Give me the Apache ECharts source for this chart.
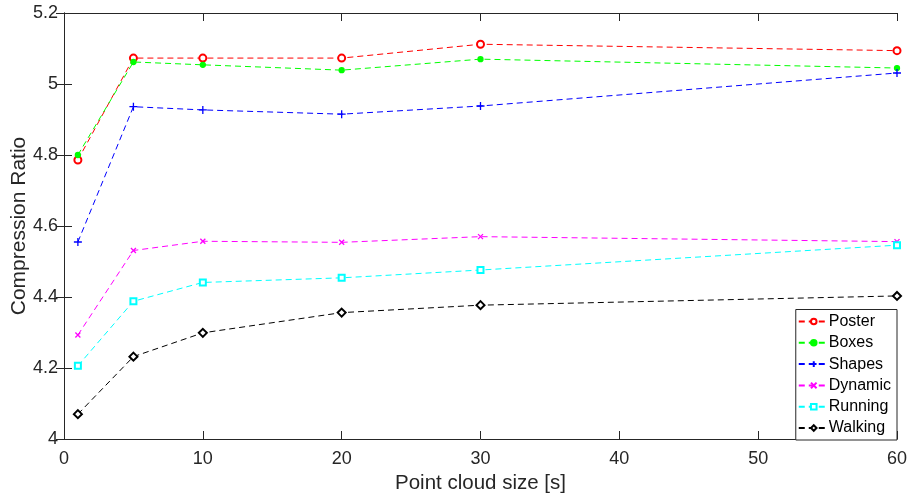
<!DOCTYPE html>
<html><head><meta charset="utf-8">
<script src="https://cdn.jsdelivr.net/npm/echarts@6/dist/echarts.min.js"></script>
<style>html,body{margin:0;padding:0;background:#fff}#c{width:907px;height:497px}</style>
</head><body><div id="c"></div>
<script>
const xValues = [1, 5, 10, 20, 30, 60];
const poster  = [4.786, 5.073, 5.073, 5.073, 5.112, 5.094];
const boxes   = [4.800, 5.062, 5.054, 5.039, 5.070, 5.045];
const shapes  = [4.555, 4.936, 4.927, 4.915, 4.938, 5.031];
const dynamic = [4.293, 4.531, 4.557, 4.554, 4.570, 4.556];
const running = [4.206, 4.388, 4.441, 4.454, 4.476, 4.546];
const walking = [4.070, 4.232, 4.299, 4.356, 4.377, 4.403];
const seriesNames = ['Poster', 'Boxes', 'Shapes', 'Dynamic', 'Running', 'Walking'];
const xTicks = [0, 10, 20, 30, 40, 50, 60];
const yTicks = [4, 4.2, 4.4, 4.6, 4.8, 5, 5.2];

const axisColor = '#262626';
const font = 'Liberation Sans, Arial, sans-serif';
const plus = 'path://M5,0L5,10M0,5L10,5';
const cross = 'path://M0,0L10,10M10,0L0,10';
const defs = [
  {data: poster,  color: '#ff0000', symbol: 'emptyCircle', size: 7},
  {data: boxes,   color: '#00ff00', symbol: 'circle', size: 5},
  {data: shapes,  color: '#0000ff', symbol: plus, size: 8},
  {data: dynamic, color: '#ff00ff', symbol: cross, size: 5},
  {data: running, color: '#00ffff', symbol: 'emptyRect', size: 6},
  {data: walking, color: '#000000', symbol: 'emptyDiamond', size: 8}
];

const series = defs.map((d, i) => ({
  name: seriesNames[i],
  type: 'line',
  data: xValues.map((x, j) => [x, d.data[j]]),
  symbol: d.symbol,
  symbolSize: d.size,
  showAllSymbol: true,
  color: d.color,
  lineStyle: {color: d.color, width: 1, type: [6, 4]},
  itemStyle: {color: d.color, borderColor: d.color, borderWidth: 1.3},
  emphasis: {disabled: true},
  animation: false,
  clip: false
}));

const tickFont = {fontFamily: font, fontSize: 18, color: axisColor};
const common = {
  axisLine: {lineStyle: {color: axisColor, width: 1}},
  axisTick: {inside: true, length: 8, lineStyle: {color: axisColor}},
  splitLine: {show: false}
};

const chart = echarts.init(document.getElementById('c'));
chart.setOption({
  animation: false,
  backgroundColor: '#fff',
  grid: {left: 64, right: 10, top: 13, bottom: 58, containLabel: false, outerBoundsMode: 'none'},
  xAxis: [
    Object.assign({type: 'value', min: 0, max: 60, interval: 10, position: 'bottom',
      name: 'Point cloud size [s]', nameLocation: 'middle', nameGap: 34, nameMoveOverlap: false,
      nameTextStyle: {fontFamily: font, fontSize: 20.5, color: axisColor},
      axisLabel: Object.assign({margin: 11, formatter: v => xTicks.includes(v) ? String(v) : ''}, tickFont)}, common),
    Object.assign({type: 'value', min: 0, max: 60, interval: 10, position: 'top', axisLabel: {show: false}}, common)
  ],
  yAxis: [
    Object.assign({type: 'value', min: 4, max: 5.2, interval: 0.2, position: 'left',
      name: 'Compression Ratio', nameLocation: 'middle', nameGap: 34, nameMoveOverlap: false,
      nameTextStyle: {fontFamily: font, fontSize: 21, color: axisColor},
      axisLabel: Object.assign({margin: 6, formatter: v => {
        const t = yTicks.find(y => Math.abs(y - v) < 1e-6);
        return t === undefined ? '' : String(t);
      }}, tickFont)}, common),
    Object.assign({type: 'value', min: 4, max: 5.2, interval: 0.2, position: 'right', axisLabel: {show: false}}, common)
  ],
  legend: {
    orient: 'vertical',
    right: 10,
    bottom: 57,
    width: 101,
    backgroundColor: '#fff',
    borderColor: axisColor,
    borderWidth: 1,
    borderRadius: 0,
    padding: [4, 6, 4, 2],
    itemWidth: 30,
    itemHeight: 7,
    itemGap: 5.3,
    textStyle: {fontFamily: font, fontSize: 16, color: '#000', padding: [0, 0, 0, -5]},
    data: seriesNames,
    selectedMode: false,
    z: 10
  },
  series: series
});
</script></body></html>
